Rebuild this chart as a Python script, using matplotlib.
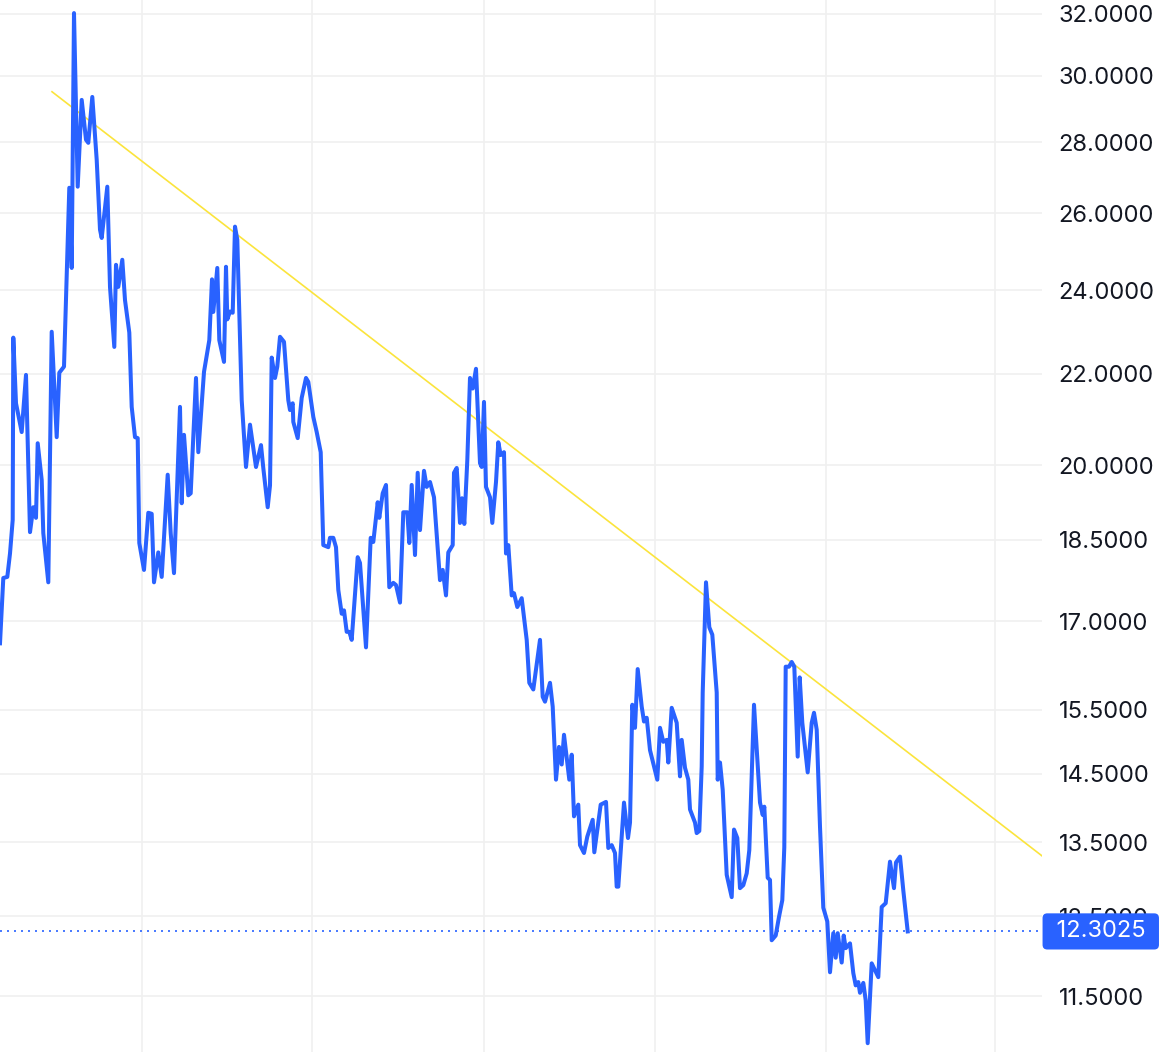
import matplotlib
matplotlib.use('Agg')
import matplotlib.pyplot as plt
import matplotlib.transforms as mtransforms
from matplotlib.ticker import FixedLocator, FuncFormatter, NullLocator

plt.rcParams['font.family'] = ['Inter', 'DejaVu Sans']

# bar position (time axis) and close price
t = [0, 3.3, 7.3, 10, 12.7, 13.3, 16, 21.7, 26, 30, 33.3, 36, 37.7, 41.7, 43.3, 48.3,
     51.7, 56.7, 59.3, 64, 69.3, 71.7, 74, 77.7, 81.7, 86, 88.3, 92.3, 96.7, 100,
     101.7, 107.3, 110, 114.3, 116, 118.3, 122.3, 125, 129.3, 131.7, 135, 137.7,
     139.3, 144, 148.3, 151.7, 154, 158.3, 161.7, 167.7, 170.7, 174, 180, 181.7,
     184, 188.3, 190.7, 196, 198.3, 204, 209.3, 212, 213.3, 217.3, 219.3, 224, 226,
     227.3, 230, 232.7, 235, 237.3, 241.7, 246, 250, 256, 261, 263.3, 267.7, 270,
     271.7, 275, 277.3, 280, 284, 288.3, 290, 292.7, 293.3, 297.7, 301.7, 306,
     308.3, 313.3, 316.7, 320.7, 323.3, 328.3, 330, 333.3, 336, 338.3, 341.7, 344,
     346.7, 349.3, 351.7, 357.7, 360, 366, 370.7, 373.3, 377.7, 379.3, 382.7, 386,
     389.3, 393.3, 396, 400, 403.3, 407.3, 409.3, 411.7, 415, 417.7, 420, 424,
     426.7, 430, 434, 440, 442.7, 446, 448.3, 452.7, 454, 456.7, 460, 462, 464.3,
     467.3, 470, 472.7, 476, 480, 481.7, 484, 486, 490, 492.3, 496, 498.3, 500.7,
     504, 506, 508.3, 511.7, 514, 517.3, 521.7, 526.7, 529.3, 533.3, 540, 542.7,
     545, 550, 552.7, 556, 559, 561.7, 564, 569.3, 571.7, 574, 578.3, 580, 584,
     587.3, 592.7, 594.3, 600.7, 606, 608.3, 611.7, 615, 616.7, 618.3, 624, 628,
     630, 632.3, 635, 637.7, 641.7, 644, 646.7, 650, 657.3, 660, 663.3, 666.7,
     668.3, 671.7, 674, 676.7, 680, 681.7, 685, 688.3, 690, 695, 696.7, 699.3,
     701.7, 702.7, 706, 709.3, 712.3, 716.7, 717.7, 720, 722.7, 726.7, 731.7, 734,
     737.3, 740, 743.3, 746.7, 749.3, 754, 760, 762.7, 764.3, 767.7, 770, 771.7,
     775.7, 779, 782.3, 784.3, 785.7, 789, 791.7, 794.3, 797.7, 799.7, 802.3,
     807.7, 811.7, 814, 816.7, 820, 823.3, 827.3, 830, 833.3, 835.7, 837.7, 841.7,
     843.7, 845.7, 850, 853.3, 855.7, 858.3, 860, 863.3, 865.7, 867.7, 871.7,
     878.3, 881.7, 885.7, 890, 894, 896, 900, 903.3, 907.7]

price = [16.61, 17.78, 17.80, 18.24, 18.89, 22.84, 21.33, 20.70, 21.97, 18.65, 19.14,
         18.93, 20.46, 19.69, 18.63, 17.70, 22.98, 20.59, 22.02, 22.16, 26.70, 24.56,
         32.03, 26.73, 29.26, 28.07, 27.98, 29.35, 27.49, 25.56, 25.34, 26.73, 24.08,
         22.62, 24.64, 24.08, 24.77, 23.75, 22.96, 21.25, 20.59, 20.57, 18.44, 17.93,
         19.03, 19.01, 17.70, 18.26, 17.80, 19.80, 18.63, 17.87, 21.25, 19.22, 20.64,
         19.38, 19.42, 21.90, 20.27, 22.04, 22.78, 24.27, 23.46, 24.56, 22.78, 22.27,
         24.59, 23.28, 23.47, 23.44, 25.64, 25.29, 21.40, 19.96, 20.86, 19.96, 20.42,
         19.94, 19.14, 19.58, 22.37, 21.90, 22.16, 22.86, 22.74, 21.40, 21.18, 21.33,
         20.92, 20.57, 21.45, 21.90, 21.81, 21.03, 20.70, 20.27, 18.40, 18.36, 18.54,
         18.54, 18.36, 17.56, 17.13, 17.19, 16.81, 16.81, 16.67, 18.17, 18.06, 16.54,
         18.54, 18.46, 19.24, 18.93, 19.42, 19.59, 17.61, 17.69, 17.65, 17.33, 19.04,
         19.04, 18.44, 19.59, 18.21, 19.84, 18.69, 19.88, 19.55, 19.65, 19.34, 17.74,
         17.93, 17.46, 18.26, 18.40, 19.84, 19.94, 18.83, 19.32, 18.81, 20.10, 21.90,
         21.66, 22.11, 20.04, 19.96, 21.36, 19.55, 19.34, 18.83, 19.65, 20.48, 20.21,
         20.27, 18.24, 18.40, 17.46, 17.50, 17.25, 17.41, 16.67, 15.94, 15.83, 16.67,
         15.71, 15.63, 15.94, 15.55, 14.41, 14.91, 14.64, 15.10, 14.41, 14.79, 13.87,
         14.04, 13.46, 13.35, 13.58, 13.82, 13.36, 14.04, 14.08, 13.42, 13.46, 13.35,
         12.89, 12.89, 14.07, 13.56, 13.78, 15.58, 15.21, 16.17, 15.55, 15.31, 15.37,
         14.86, 14.41, 15.21, 14.99, 15.02, 14.67, 15.53, 15.42, 15.29, 14.46, 15.02,
         14.59, 14.41, 13.97, 13.78, 13.63, 13.66, 14.61, 15.78, 17.70, 16.89, 16.76,
         15.78, 14.41, 14.67, 14.26, 13.05, 12.75, 13.68, 13.56, 12.87, 12.91, 13.07,
         13.39, 15.58, 14.07, 13.89, 14.01, 13.01, 12.98, 12.19, 12.25, 12.49, 12.71,
         13.43, 16.21, 16.21, 16.29, 16.21, 14.76, 16.03, 15.29, 14.52, 15.29, 15.45,
         15.18, 13.72, 12.61, 12.43, 11.79, 12.28, 11.97, 12.28, 11.91, 12.25, 12.09,
         12.15, 11.78, 11.63, 11.67, 11.54, 11.66, 11.45, 10.95, 11.90, 11.73, 12.62,
         12.67, 13.23, 12.87, 13.22, 13.30, 12.84, 12.3025]

trend_t = [52, 1042]
trend_price = [29.51, 13.31]

last_price = 12.3025
price_ticks = [11.5, 12.5, 13.5, 14.5, 15.5, 17.0, 18.5, 20.0, 22.0, 24.0, 26.0,
               28.0, 30.0, 32.0]
time_grid = [142, 312, 484, 655, 826, 995]

blue = '#2962FF'

fig = plt.figure(figsize=(11.68, 10.52), dpi=100)
ax = fig.add_axes([0, 0, 1042 / 1168, 1])

ax.plot(t, price, color=blue, lw=2.9, solid_joinstyle='round', zorder=4)
ax.plot(trend_t, trend_price, color='#FBE43C', lw=1.2, zorder=3)
ax.axhline(last_price, color=blue, lw=1.2, ls=(0, (1.2, 3)), zorder=3)

ax.set_yscale('log')
ax.set_ylim(10.85, 32.47)
ax.set_xlim(0, 1042)
ax.yaxis.set_major_locator(FixedLocator(price_ticks))
ax.yaxis.set_minor_locator(NullLocator())
ax.yaxis.set_major_formatter(FuncFormatter(lambda v, p: f'{v:.4f}'))
ax.yaxis.tick_right()
ax.set_xticks(time_grid)
ax.set_xticklabels([])
ax.tick_params(axis='both', length=0)
ax.tick_params(axis='y', pad=12, labelsize=17, labelcolor='#131722')
ax.grid(color='#F0F0F0', lw=1.2)
ax.set_axisbelow(True)
for s in ax.spines.values():
  s.set_visible(False)

# last-price tag on the scale (covers the 12.5 label, as in the original)
trans = mtransforms.blended_transform_factory(ax.transAxes, ax.transData)
ax.annotate(f' {last_price:.4f} ', xy=(1, last_price), xycoords=trans,
            xytext=(5.5, 0), textcoords='offset points', ha='left', va='center',
            color='white', fontsize=17, zorder=10, annotation_clip=False,
            bbox=dict(boxstyle='round,pad=0.3,rounding_size=0.2', fc=blue, ec='none'))

fig.savefig('out.png', dpi=100)
